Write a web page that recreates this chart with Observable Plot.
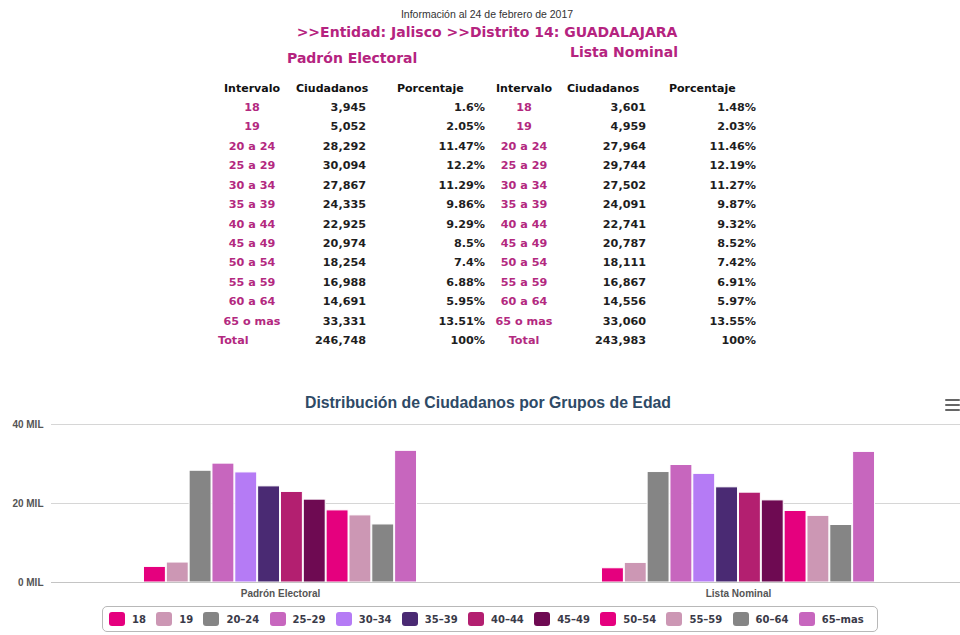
<!DOCTYPE html>
<html>
<head>
<meta charset="utf-8">
<script src="https://cdn.jsdelivr.net/npm/d3@7"></script>
<script src="https://cdn.jsdelivr.net/npm/@observablehq/plot@0.6"></script>
<style>
  html, body { margin: 0; padding: 0; width: 960px; height: 635px; overflow: hidden; background: #fff; }
  .t { position: absolute; white-space: nowrap; line-height: 1; }
  .c { transform: translate(-50%, -50%); }
  .r { transform: translate(-100%, -50%); }
  .l { transform: translate(0, -50%); }
  .vb { font-family: "DejaVu Sans", Verdana, sans-serif; font-weight: bold; }
  .mag { color: #b3297f; }
  .blk { color: #1e1e1e; }
  #chart svg { max-width: none !important; }
  #legend { position: absolute; left: 102px; top: 606px; width: 776px; height: 26px; border: 1px solid #b8b8b8; border-radius: 5px; box-sizing: border-box; display: flex; align-items: center; padding-left: 6px; }
  .li { display: flex; align-items: center; margin-right: 10.3px; font-family: "DejaVu Sans", Verdana, sans-serif; font-weight: bold; font-size: 10px; color: #3a3a48; }
  .sw { width: 16px; height: 14px; border-radius: 3px; margin-right: 7px; }
</style>
</head>
<body>
<div id="page"></div>
<div id="chart" style="position:absolute;left:0;top:414px;width:968px;"></div>
<div id="legend"></div>
<script>
// ---- data ----
const intervalos = ["18", "19", "20 a 24", "25 a 29", "30 a 34", "35 a 39", "40 a 44", "45 a 49", "50 a 54", "55 a 59", "60 a 64", "65 o mas"];
const edadLabels = ["18", "19", "20–24", "25–29", "30–34", "35–39", "40–44", "45–49", "50–54", "55–59", "60–64", "65–mas"];
const padron = [3945, 5052, 28292, 30094, 27867, 24335, 22925, 20974, 18254, 16988, 14691, 33331];
const padronPct = ["1.6%", "2.05%", "11.47%", "12.2%", "11.29%", "9.86%", "9.29%", "8.5%", "7.4%", "6.88%", "5.95%", "13.51%"];
const padronTotal = 246748;
const lista = [3601, 4959, 27964, 29744, 27502, 24091, 22741, 20787, 18111, 16867, 14556, 33060];
const listaPct = ["1.48%", "2.03%", "11.46%", "12.19%", "11.27%", "9.87%", "9.32%", "8.52%", "7.42%", "6.91%", "5.97%", "13.55%"];
const listaTotal = 243983;
const grupos = ["Padrón Electoral", "Lista Nominal"];
const colores = ["#E5007E", "#CC97B4", "#858585", "#C766BE", "#B57BF5", "#4A2A73", "#B31F70", "#6E0A52", "#E5007E", "#CC97B4", "#858585", "#C766BE"];
const yTicks = [0, 20000, 40000];

// ---- header & tables ----
const page = document.getElementById("page");
function txt(s, x, y, cls, style) {
  const d = document.createElement("div");
  d.className = "t " + cls;
  d.textContent = s;
  d.style.left = x + "px";
  d.style.top = y + "px";
  if (style) d.style.cssText += style;
  page.appendChild(d);
  return d;
}
txt("Información al 24 de febrero de 2017", 487, 14, "c", "font-family:'Liberation Sans',Arial,sans-serif;font-size:10.5px;color:#333;");
txt(">>Entidad: Jalisco >>Distrito 14: GUADALAJARA", 487, 32, "c vb mag", "font-size:14px;color:#b5237f;");
txt("Padrón Electoral", 287, 58, "l vb", "font-size:14px;color:#b5237f;");
txt("Lista Nominal", 570, 52, "l vb", "font-size:14px;color:#b5237f;");

const fmt = d3.format(",");
const rowY0 = 108, rowStep = 19.42, headY = 88;
const tables = [
  {vals: padron, pct: padronPct, total: padronTotal, xi: 252, xc: 366, xp: 485, hc: 296, hp: 397, totalLeft: 218},
  {vals: lista, pct: listaPct, total: listaTotal, xi: 524, xc: 646, xp: 756, hc: 567, hp: 669, totalLeft: null}
];
tables.forEach(tb => {
  const hs = "font-size:11px;color:#111;";
  txt("Intervalo", tb.xi, headY, "c vb", hs);
  txt("Ciudadanos", tb.hc, headY, "l vb", hs);
  txt("Porcentaje", tb.hp, headY, "l vb", hs);
  const vs = "font-size:11.2px;";
  intervalos.forEach((iv, i) => {
    const y = rowY0 + i * rowStep;
    txt(iv, tb.xi, y, "c vb mag", vs);
    txt(fmt(tb.vals[i]), tb.xc, y, "r vb blk", vs);
    txt(tb.pct[i], tb.xp, y, "r vb blk", vs);
  });
  const yT = rowY0 + intervalos.length * rowStep;
  if (tb.totalLeft !== null) txt("Total", tb.totalLeft, yT, "l vb mag", vs);
  else txt("Total", tb.xi, yT, "c vb mag", vs);
  txt(fmt(tb.total), tb.xc, yT, "r vb blk", vs);
  txt("100%", tb.xp, yT, "r vb blk", vs);
});

// chart title & menu icon
txt("Distribución de Ciudadanos por Grupos de Edad", 488, 403, "c", "font-family:'Liberation Sans',Arial,sans-serif;font-weight:bold;font-size:15.8px;color:#2e4a66;");
[398.5, 403.5, 408.5].forEach(y => {
  const b = document.createElement("div");
  b.style.cssText = `position:absolute;left:945px;top:${y}px;width:15px;height:2.6px;background:#666;border-radius:1px;`;
  page.appendChild(b);
});

// ---- chart ----
const rows = [];
grupos.forEach((g, gi) => {
  const vals = gi === 0 ? padron : lista;
  edadLabels.forEach((e, i) => rows.push({grupo: g, edad: e, valor: vals[i]}));
});

const chart = Plot.plot({
  width: 968,
  height: 200,
  marginLeft: 51,
  marginRight: 1,
  marginTop: 10,
  marginBottom: 32,
  style: {fontFamily: "'Liberation Sans', Arial, sans-serif", fontSize: "10px", fontWeight: "bold", color: "#555", background: "transparent", maxWidth: "none"},
  facet: {data: rows, x: "grupo"},
  fx: {domain: grupos, padding: 0, round: false, label: null, tickSize: 0, tickPadding: 7},
  x: {domain: edadLabels, paddingInner: 0.04, paddingOuter: 4.05, round: false, axis: null},
  y: {domain: [0, 40000], ticks: yTicks, tickFormat: d => (d / 1000) + " MIL", tickSize: 0, tickPadding: 8, label: null},
  color: {domain: edadLabels, range: colores},
  marks: [
    Plot.ruleY([20000, 40000], {stroke: "#d6d6d6", strokeWidth: 1}),
    Plot.barY(rows, {x: "edad", y: "valor", fill: "edad", stroke: "white", strokeWidth: 1}),
    Plot.ruleY([0], {stroke: "#c4c4c4", strokeWidth: 1})
  ]
});
document.getElementById("chart").appendChild(chart);

// ---- legend ----
const legend = document.getElementById("legend");
edadLabels.forEach((e, i) => {
  const it = document.createElement("div");
  it.className = "li";
  const sw = document.createElement("div");
  sw.className = "sw";
  sw.style.background = colores[i];
  const s = document.createElement("span");
  s.textContent = e;
  it.appendChild(sw);
  it.appendChild(s);
  legend.appendChild(it);
});
</script>
</body>
</html>
